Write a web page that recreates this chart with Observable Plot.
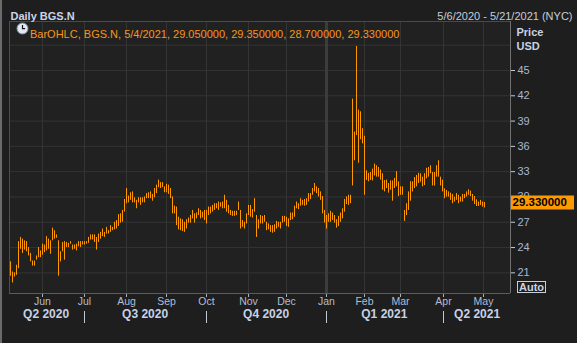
<!DOCTYPE html>
<html><head><meta charset="utf-8">
<script src="https://cdn.jsdelivr.net/npm/d3@7"></script>
<script src="https://cdn.jsdelivr.net/npm/@observablehq/plot@0.6"></script>
<style>
html,body{margin:0;padding:0;background:#1e1e1e;width:577px;height:343px;overflow:hidden}
#wrap{position:relative;width:577px;height:343px}
#wrap svg{display:block}
#strip{position:absolute;left:0;top:0;width:2px;height:343px;background:#6a6a6a}
#icon{position:absolute;left:16px;top:22px}
#auto{position:absolute;left:517px;top:281px;width:27px;height:10px;border:1px solid #c8d0dc;color:#c8d2e2;font:bold 11px "Liberation Sans",Arial,sans-serif;line-height:10px;text-align:center}
</style></head><body><div id="wrap"></div>
<script>
// ---- data ----
const hi = [
22.3,21.1,21.0,21.9,24.7,25.2,25.0,24.8,24.7,24.0,
23.3,22.4,22.4,23.0,24.0,23.6,24.4,24.3,25.3,25.0,
24.8,26.3,26.0,25.5,24.8,23.5,24.6,24.7,24.6,24.5,
24.7,24.3,24.3,24.4,24.7,24.7,24.7,24.7,24.7,25.2,
25.5,25.5,25.5,25.2,25.6,25.8,26.2,25.8,26.4,26.0,
26.6,26.4,27.0,27.2,27.9,28.0,28.4,29.7,31.0,30.1,
30.5,30.6,29.9,29.6,29.9,29.9,29.9,30.0,30.4,30.5,
30.6,30.3,31.0,31.4,32.0,31.7,31.7,31.2,31.5,31.4,
31.0,30.0,28.9,28.8,27.6,27.4,27.3,27.0,27.3,27.5,
27.8,28.4,28.0,28.1,
28.6,28.4,28.2,28.4,28.4,28.8,28.8,29.0,29.2,29.2,
29.4,29.3,29.4,30.2,29.6,29.0,28.4,28.3,28.3,28.3,
29.4,28.4,27.2,27.0,28.0,29.0,29.0,28.5,29.8,27.8,
27.3,27.8,27.7,27.8,27.0,26.8,26.6,26.6,26.7,27.1,
27.0,27.0,27.7,27.7,27.6,27.4,28.1,28.1,28.9,29.4,
29.2,29.8,29.6,29.7,29.8,30.4,30.4,31.0,31.6,31.2,
31.0,30.6,
30.05,28.4,27.8,28.0,28.3,28.1,27.8,27.3,27.7,28.1,
28.6,29.7,30.0,30.2,30.2,41.6,37.7,47.85,40.3,40.1,
38.1,37.2,33.1,32.8,32.9,33.3,33.9,33.7,33.5,33.2,
32.75,31.95,32.0,31.6,31.9,31.9,32.2,33.0,31.8,31.2,
31.2,28.4,29.2,30.6,31.8,31.8,32.3,32.55,32.8,32.75,
32.35,32.75,33.4,33.5,33.7,32.9,32.9,33.7,34.3,32.35,
32.0,30.96,30.77,30.6,30.45,30.3,29.98,30.4,30.2,29.98,
30.3,30.3,30.6,30.85,30.7,30.3,30.05,29.66,29.4,29.6,
29.4,29.35];
const lo = [
20.6,19.8,20.5,20.7,21.5,23.8,23.3,23.7,23.5,23.0,
22.3,21.8,21.8,22.5,22.8,22.8,23.1,23.4,23.6,23.8,
23.2,24.8,25.0,25.1,20.6,22.3,23.5,22.5,24.0,24.0,
24.4,23.7,23.8,23.6,24.1,24.0,24.3,24.3,24.4,24.5,
24.9,24.9,24.6,23.7,24.6,25.0,25.3,25.2,25.6,25.6,
25.8,26.0,26.1,26.2,26.5,26.9,27.0,28.2,29.2,29.3,
29.6,29.3,29.3,28.6,29.3,29.0,29.3,29.3,29.8,29.8,
29.8,29.5,29.9,30.4,31.1,31.0,31.1,30.5,30.5,30.3,
29.8,28.0,28.0,26.6,26.1,26.0,25.9,25.8,26.2,26.9,
26.9,27.4,26.9,27.4,
27.8,27.4,27.5,27.2,26.8,27.8,28.0,28.2,28.4,28.6,
28.4,28.8,28.6,28.6,28.2,28.0,27.8,27.7,27.7,27.8,
28.4,26.2,26.4,26.2,26.8,27.8,27.6,27.5,28.2,25.2,
26.2,26.8,26.8,27.0,26.0,26.1,25.8,25.7,25.8,26.2,
26.4,26.2,26.9,27.0,26.5,26.4,27.2,27.3,27.6,28.6,
28.5,28.9,29.0,28.9,29.0,29.4,29.7,30.2,30.6,30.4,
30.0,29.6,
28.0,26.9,26.2,27.0,27.0,27.2,26.9,26.3,26.5,27.0,
27.4,28.2,29.1,29.0,29.2,31.3,34.3,37.3,34.0,36.8,
36.3,30.2,31.95,31.8,31.95,31.9,32.5,32.35,32.35,32.0,
30.8,30.6,31.0,30.45,30.8,29.5,31.0,31.2,30.05,30.2,
30.2,27.1,27.8,28.4,29.5,30.6,31.0,31.2,31.6,31.76,
31.2,31.36,32.15,32.35,32.75,31.3,31.3,32.35,32.35,31.3,
30.6,29.8,29.98,29.98,29.6,29.2,29.4,29.6,29.2,29.4,
29.4,29.8,29.98,30.2,30.05,29.5,29.1,28.87,28.87,29.0,
28.8,28.7];
const lastClose = 29.33;
const monthLabels = ["Jun","Jul","Aug","Sep","Oct","Nov","Dec","Jan","Feb","Mar","Apr","May"];
const monthIdx = [16,37,58,78,98,119,138,158,177,195,216.5,236.5];
const yearIdx = [158];
const quarterLabels = ["Q2 2020","Q3 2020","Q4 2020","Q1 2021","Q2 2021"];
const quarterIdx = [17.8,67.3,127.8,186.9,233.3];
const quarterSep = [37,98,158,216.5];
const yTicks = [21,24,27,30,33,36,39,42,45];
const yGrid = [21,24,27,30,33,36,39,42,45,48];
const titleText = "Daily BGS.N";
const rangeText = "5/6/2020 - 5/21/2021 (NYC)";
const legendText = "BarOHLC, BGS.N, 5/4/2021, 29.050000, 29.350000, 28.700000, 29.330000";
const xDomain = [-0.5, 250];
const yDomain = [18.55, 50.81];

const bars = hi.map((h, i) => ({i, hi: h, lo: lo[i]}));
const orange = "#ff9900";
const grid = "#343434";

const chart = Plot.plot({
  width: 577, height: 343,
  marginLeft: 9, marginRight: 67, marginTop: 21, marginBottom: 50,
  style: {background: "#1e1e1e", color: "#b0bdd3", fontFamily: '"Liberation Sans", Arial, sans-serif', fontSize: "11px"},
  x: {domain: xDomain, axis: null},
  y: {domain: yDomain, axis: null},
  marks: [
    Plot.frame({fill: "#212121", stroke: null}),
    Plot.ruleY(yGrid, {y: d => d, stroke: grid}),
    Plot.ruleX(monthIdx, {x: d => d, stroke: grid}),
    Plot.ruleX(yearIdx, {x: d => d, stroke: "#3c3c3c", strokeWidth: 3}),
    Plot.ruleY([yDomain[1]], {y: d => d, stroke: "#4a4a4a"}),
    Plot.ruleY([yDomain[0]], {y: d => d, stroke: "#5c5c5c"}),
    Plot.ruleX([xDomain[0]], {x: d => d, stroke: "#4e4e4e"}),
    Plot.ruleX([xDomain[1]], {x: d => d, stroke: "#707070"}),
    Plot.ruleX(bars, {x: "i", y1: "lo", y2: "hi", stroke: orange}),
    // right price axis
    Plot.tickY(yTicks, {y: d => d, insetLeft: 497, dx: 5, stroke: "#c4ccd8"}),
    Plot.text(yTicks, {y: d => d, text: d => String(d), frameAnchor: "right", dx: 7, textAnchor: "start", fill: "#a9b8d0", fontSize: 11}),
    Plot.tickY([lastClose], {y: d => d, insetLeft: 438, dx: 64, stroke: orange, strokeWidth: 14}),
    Plot.text([lastClose], {y: d => d, text: d => d.toFixed(6), frameAnchor: "right", dx: 2, textAnchor: "start", fill: "#000", fontWeight: "bold", fontSize: 11.5}),
    Plot.text(["Price"], {text: d => d, frameAnchor: "top-right", dx: 6, dy: 7, textAnchor: "start", fontWeight: "bold", fontSize: 11, fill: "#c8d2e2"}),
    Plot.text(["USD"], {text: d => d, frameAnchor: "top-right", dx: 6, dy: 21, textAnchor: "start", fontWeight: "bold", fontSize: 11, fill: "#c8d2e2"}),
    // time axis
    Plot.tickX(monthIdx, {x: d => d, insetTop: 269, dy: 4, stroke: "#aab2be"}),
    Plot.text(monthIdx, {x: d => d, text: (d, i) => monthLabels[i], frameAnchor: "bottom", dy: 11, fontSize: 10.5, fill: "#b0bdd3"}),
    Plot.tickX(quarterSep, {x: d => d, insetTop: 260, dy: 30, stroke: "#c0c8d4"}),
    Plot.text(quarterIdx, {x: d => d, text: (d, i) => quarterLabels[i], frameAnchor: "bottom", dy: 24, fontSize: 12, fontWeight: "bold", fill: "#c6d2e8"}),
    // header & legend
    Plot.text([titleText], {text: d => d, frameAnchor: "top-left", dx: 1, dy: -9, textAnchor: "start", fontWeight: "bold", fontSize: 11, fill: "#ccd5e5"}),
    Plot.text([rangeText], {text: d => d, frameAnchor: "top-right", dx: 62, dy: -9, textAnchor: "end", fontSize: 11, fill: "#c4cddc"}),
    Plot.text([legendText], {text: d => d, frameAnchor: "top-left", dx: 20.5, dy: 8.5, textAnchor: "start", fontSize: 11, fill: "#f7961c"})
  ]
});
const wrap = document.getElementById("wrap");
wrap.appendChild(chart);
wrap.insertAdjacentHTML("beforeend",
  '<div id="strip"></div>' +
  '<svg id="icon" width="13" height="13"><circle cx="6.5" cy="6.5" r="5.5" fill="#e3e9f2" stroke="#7f90a8"/><path d="M6.5 3v3.7h2.6" stroke="#111" stroke-width="1.2" fill="none"/></svg>' +
  '<div id="auto">Auto</div>');
</script></body></html>
